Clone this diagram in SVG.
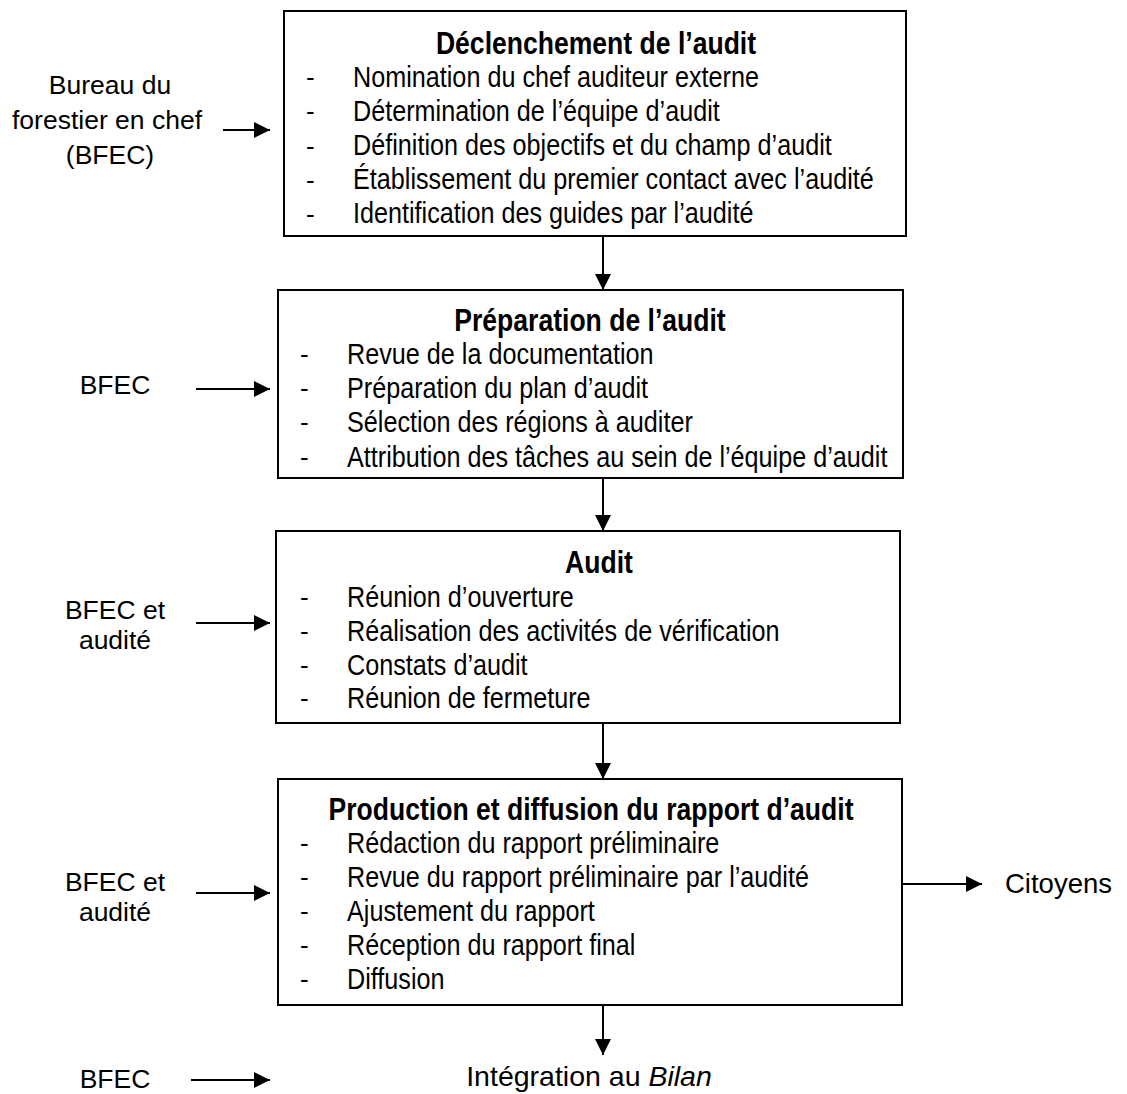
<svg xmlns="http://www.w3.org/2000/svg" width="1127" height="1094" viewBox="0 0 1127 1094">
<style>
text{font-family:"Liberation Sans",Arial,sans-serif;fill:#000}
.box{fill:#fff;stroke:#000;stroke-width:2}
.it{font-size:30px}
.ti{font-size:31.5px;font-weight:bold;text-anchor:middle}
.lb{font-size:26.5px;text-anchor:middle}
.dash{font-size:26px}
.con{stroke:#000;stroke-width:2;fill:none;marker-end:url(#ah)}
</style>
<defs>
<marker id="ah" markerUnits="userSpaceOnUse" markerWidth="17" markerHeight="16" refX="16" refY="8" orient="auto">
<path d="M0,0 L16,8 L0,16 z" fill="#000"/>
</marker>
</defs>
<rect width="1127" height="1094" fill="#fff"/>

<g id="connectors">
<line class="con" x1="223" y1="130" x2="270" y2="130"/>
<line class="con" x1="603" y1="236" x2="603" y2="290"/>
<line class="con" x1="196" y1="389" x2="270" y2="389"/>
<line class="con" x1="603" y1="478" x2="603" y2="531"/>
<line class="con" x1="196" y1="623" x2="270" y2="623"/>
<line class="con" x1="603" y1="723" x2="603" y2="779"/>
<line class="con" x1="196" y1="893" x2="270" y2="893"/>
<line class="con" x1="902" y1="884" x2="982" y2="884"/>
<line class="con" x1="603" y1="1005" x2="603" y2="1055"/>
<line class="con" x1="191" y1="1080" x2="270" y2="1080"/>
</g>

<g id="src-bfec-1">
<text class="lb" x="110" y="94">Bureau du</text>
<text class="lb" x="107" y="129">forestier en chef</text>
<text class="lb" x="110" y="164">(BFEC)</text>
</g>

<g id="node-declenchement">
<rect class="box" x="284" y="11" width="622" height="225"/>
<text class="ti" transform="translate(596,54) scale(0.843,1)">Déclenchement de l’audit</text>
<text class="dash" x="306" y="86">-</text>
<text class="dash" x="306" y="120">-</text>
<text class="dash" x="306" y="155">-</text>
<text class="dash" x="306" y="189">-</text>
<text class="dash" x="306" y="223">-</text>
<text class="it" transform="translate(353,87) scale(0.84,1)">Nomination du chef auditeur externe</text>
<text class="it" transform="translate(353,121) scale(0.84,1)">Détermination de l’équipe d’audit</text>
<text class="it" transform="translate(353,155) scale(0.84,1)">Définition des objectifs et du champ d’audit</text>
<text class="it" transform="translate(353,189) scale(0.84,1)">Établissement du premier contact avec l’audité</text>
<text class="it" transform="translate(353,223) scale(0.84,1)">Identification des guides par l’audité</text>
</g>

<g id="src-bfec-2">
<text class="lb" x="115" y="394">BFEC</text>
</g>

<g id="node-preparation">
<rect class="box" x="278" y="290" width="625" height="188"/>
<text class="ti" transform="translate(590,331) scale(0.843,1)">Préparation de l’audit</text>
<text class="dash" x="300" y="363">-</text>
<text class="dash" x="300" y="397">-</text>
<text class="dash" x="300" y="431">-</text>
<text class="dash" x="300" y="466">-</text>
<text class="it" transform="translate(347,364) scale(0.84,1)">Revue de la documentation</text>
<text class="it" transform="translate(347,398) scale(0.84,1)">Préparation du plan d’audit</text>
<text class="it" transform="translate(347,432) scale(0.84,1)">Sélection des régions à auditer</text>
<text class="it" transform="translate(347,467) scale(0.84,1)">Attribution des tâches au sein de l’équipe d’audit</text>
</g>

<g id="src-bfec-3">
<text class="lb" x="115" y="619">BFEC et</text>
<text class="lb" x="115" y="649">audité</text>
</g>

<g id="node-audit">
<rect class="box" x="276" y="531" width="624" height="192"/>
<text class="ti" transform="translate(599,573) scale(0.843,1)">Audit</text>
<text class="dash" x="300" y="606">-</text>
<text class="dash" x="300" y="640">-</text>
<text class="dash" x="300" y="674">-</text>
<text class="dash" x="300" y="707">-</text>
<text class="it" transform="translate(347,607) scale(0.84,1)">Réunion d’ouverture</text>
<text class="it" transform="translate(347,641) scale(0.84,1)">Réalisation des activités de vérification</text>
<text class="it" transform="translate(347,675) scale(0.84,1)">Constats d’audit</text>
<text class="it" transform="translate(347,708) scale(0.84,1)">Réunion de fermeture</text>
</g>

<g id="src-bfec-4">
<text class="lb" x="115" y="891">BFEC et</text>
<text class="lb" x="115" y="921">audité</text>
</g>

<g id="node-production">
<rect class="box" x="278" y="779" width="624" height="226"/>
<text class="ti" transform="translate(591,820) scale(0.843,1)">Production et diffusion du rapport d’audit</text>
<text class="dash" x="300" y="852">-</text>
<text class="dash" x="300" y="886">-</text>
<text class="dash" x="300" y="920">-</text>
<text class="dash" x="300" y="954">-</text>
<text class="dash" x="300" y="988">-</text>
<text class="it" transform="translate(347,853) scale(0.84,1)">Rédaction du rapport préliminaire</text>
<text class="it" transform="translate(347,887) scale(0.84,1)">Revue du rapport préliminaire par l’audité</text>
<text class="it" transform="translate(347,921) scale(0.84,1)">Ajustement du rapport</text>
<text class="it" transform="translate(347,955) scale(0.84,1)">Réception du rapport final</text>
<text class="it" transform="translate(347,989) scale(0.84,1)">Diffusion</text>
</g>

<g id="node-citoyens">
<text x="1005" y="893" font-size="27.5">Citoyens</text>
</g>

<g id="src-bfec-5">
<text class="lb" x="115" y="1088">BFEC</text>
</g>

<g id="node-integration">
<text x="589" y="1086" font-size="28.5" text-anchor="middle">Intégration au <tspan font-style="italic">Bilan</tspan></text>
</g>
</svg>
